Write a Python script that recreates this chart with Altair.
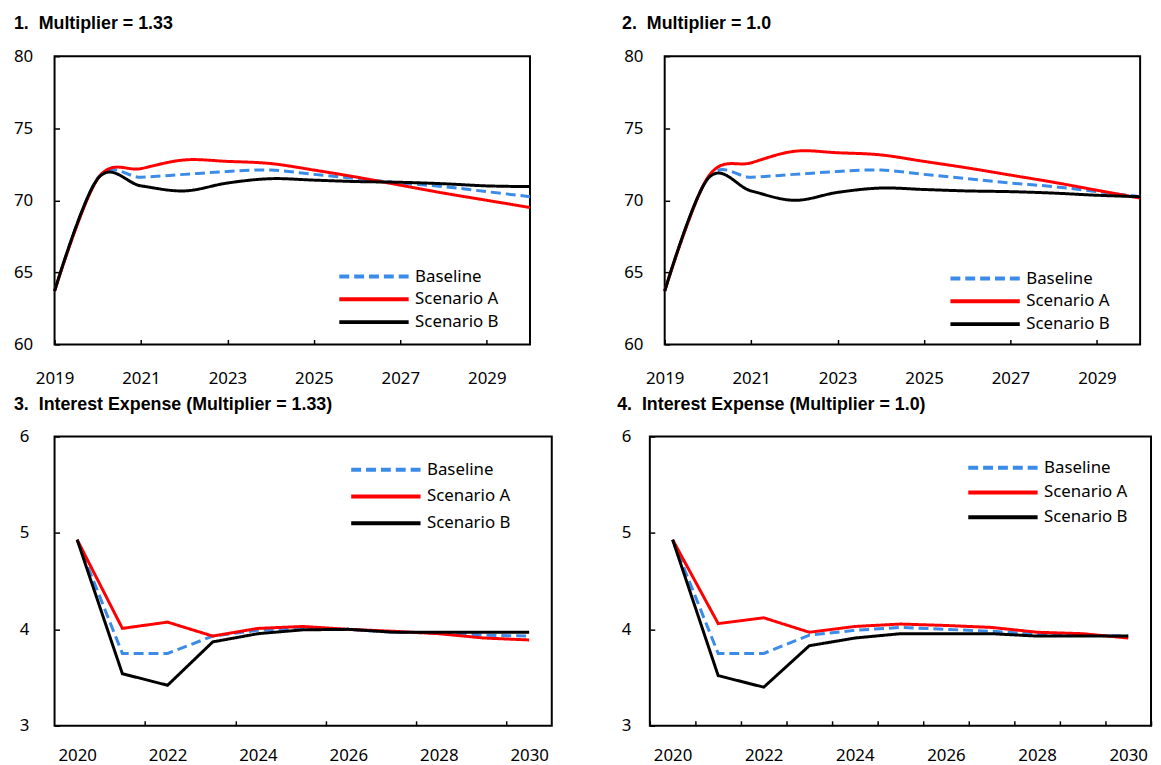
import altair as alt
import pandas as pd

# ---------------- data ----------------
years_top = [2019, 2020, 2021, 2022, 2023, 2024, 2025, 2026, 2027, 2028, 2029, 2030]
years_bot = [2020, 2021, 2022, 2023, 2024, 2025, 2026, 2027, 2028, 2029, 2030]
series = ["Baseline", "Scenario A", "Scenario B"]

# Panel 1: Multiplier = 1.33
p1_baseline = [63.7, 71.55, 71.6, 71.8, 72.0, 72.1, 71.8, 71.5, 71.2, 70.95, 70.6, 70.25]
p1_scen_a = [63.7, 71.5, 72.2, 72.8, 72.7, 72.55, 72.1, 71.6, 71.05, 70.5, 70.0, 69.5]
p1_scen_b = [63.7, 71.5, 71.0, 70.65, 71.2, 71.5, 71.4, 71.3, 71.25, 71.15, 71.0, 70.95]

# Panel 2: Multiplier = 1.0
p2_baseline = [63.7, 71.55, 71.6, 71.8, 72.0, 72.1, 71.8, 71.5, 71.2, 70.95, 70.6, 70.25]
p2_scen_a = [63.7, 71.6, 72.6, 73.4, 73.3, 73.15, 72.7, 72.25, 71.75, 71.25, 70.7, 70.15]
p2_scen_b = [63.7, 71.5, 70.65, 70.0, 70.55, 70.85, 70.75, 70.65, 70.6, 70.5, 70.35, 70.25]

# Panel 3: Interest Expense (Multiplier = 1.33)
p3_baseline = [4.93, 3.75, 3.75, 3.93, 3.99, 4.01, 4.0, 3.97, 3.96, 3.94, 3.93]
p3_scen_a = [4.93, 4.01, 4.075, 3.93, 4.01, 4.03, 4.0, 3.98, 3.955, 3.91, 3.89]
p3_scen_b = [4.93, 3.54, 3.42, 3.87, 3.955, 3.995, 4.0, 3.97, 3.97, 3.97, 3.97]

# Panel 4: Interest Expense (Multiplier = 1.0)
p4_baseline = [4.93, 3.75, 3.75, 3.94, 3.99, 4.02, 4.0, 3.98, 3.95, 3.94, 3.93]
p4_scen_a = [4.93, 4.06, 4.12, 3.97, 4.03, 4.055, 4.04, 4.02, 3.97, 3.955, 3.91]
p4_scen_b = [4.93, 3.52, 3.40, 3.83, 3.91, 3.955, 3.955, 3.955, 3.93, 3.93, 3.93]

titles = [
    "1.\u00a0 Multiplier = 1.33",
    "2.\u00a0 Multiplier = 1.0",
    "3.\u00a0 Interest Expense (Multiplier = 1.33)",
    "4.\u00a0 Interest Expense (Multiplier = 1.0)",
]

# ---------------- style ----------------
colors = ["#3B8BE8", "#FF0000", "#000000"]
dashes = [[10, 5], [1, 0], [1, 0]]
LABEL_FONT = "Noto Sans"
TITLE_FONT = "Liberation Sans Narrow, Arial Narrow, Liberation Sans, sans-serif"
LEGEND_PATH = "M-7,0H7"   # long horizontal stroke symbol


def long_df(years, cols):
    rows = []
    for i, (name, vals) in enumerate(zip(series, cols)):
        for yr, v in zip(years, vals):
            rows.append({"year": yr, "value": v, "series": name, "order": i})
    return pd.DataFrame(rows)


def make_legend(lx, ly, row_pad):
    return alt.Legend(
        title=None, orient="none", legendX=lx, legendY=ly,
        symbolType=LEGEND_PATH, symbolSize=100, symbolStrokeWidth=4,
        labelFont=LABEL_FONT, labelFontSize=17, labelColor="#000000",
        labelOffset=33, rowPadding=row_pad, padding=0,
    )


def axis_common(**kw):
    base = dict(
        labelFont=LABEL_FONT, labelFontSize=17, labelColor="#000000",
        tickColor="#000000", tickWidth=1.5, tickSize=5, domain=False,
        grid=False, title=None, offset=-5,
    )
    base.update(kw)
    return alt.Axis(**base)


def title_params(text, dx):
    return alt.TitleParams(
        text=text, anchor="start", frame="group", dx=dx, offset=14,
        font=TITLE_FONT, fontSize=18, fontWeight="bold", color="#000000",
    )


def enc_style(leg):
    return dict(
        color=alt.Color("series:N", scale=alt.Scale(domain=series, range=colors), legend=leg),
        strokeDash=alt.StrokeDash("series:N", scale=alt.Scale(domain=series, range=dashes), legend=leg),
        order=alt.Order("order:Q"),
    )


def top_panel(cols, title, dx, lx, ly, rp, width):
    df = long_df(years_top, cols)
    leg = make_legend(lx, ly, rp)
    return alt.Chart(df, title=title_params(title, dx)).mark_line(
        interpolate="cardinal", strokeWidth=3
    ).encode(
        x=alt.X("year:Q", scale=alt.Scale(domain=[2019, 2030], nice=False, zero=False),
                axis=axis_common(values=[2019, 2021, 2023, 2025, 2027, 2029], format="d",
                                 labelPadding=26, labelFlush=False)),
        y=alt.Y("value:Q", scale=alt.Scale(domain=[60, 80], nice=False, zero=False),
                axis=axis_common(values=[60, 65, 70, 75, 80], labelPadding=22)),
        detail="series:N",
        **enc_style(leg),
    ).properties(width=width, height=291)


def bottom_panel(cols, title, dx, lx, ly, rp, width, every_tick, ypad):
    df = long_df(years_bot, cols)
    leg = make_legend(lx, ly, rp)
    if every_tick:
        tick_op = 1
    else:
        tick_op = {"condition": {"test": "datum.value % 2 == 1", "value": 1}, "value": 0}
    xaxis = axis_common(values=years_bot, tickBand="extent", labelAngle=0,
                        labelPadding=22, tickOpacity=tick_op,
                        labelExpr="datum.value % 2 == 0 ? datum.label : ''")
    return alt.Chart(df, title=title_params(title, dx)).mark_line(strokeWidth=3).encode(
        x=alt.X("year:O", scale=alt.Scale(type="band", paddingInner=0, paddingOuter=0),
                axis=xaxis, bandPosition=0.5),
        y=alt.Y("value:Q", scale=alt.Scale(domain=[3, 6], nice=False, zero=False),
                axis=axis_common(values=[3, 4, 5, 6], labelPadding=ypad)),
        detail="series:N",
        **enc_style(leg),
    ).properties(width=width, height=292)


p1 = top_panel([p1_baseline, p1_scen_a, p1_scen_b], titles[0], -41, 314, 214, 5, 480)
p2 = top_panel([p2_baseline, p2_scen_a, p2_scen_b], titles[1], -43, 315, 216, 5, 480)
p3 = bottom_panel([p3_baseline, p3_scen_a, p3_scen_b], titles[2], -41, 326, 25, 9, 502, False, 26)
p4 = bottom_panel([p4_baseline, p4_scen_a, p4_scen_b], titles[3], -33, 348, 23, 7, 506, True, 19)


def indep(c):
    return c.resolve_scale(
        color="independent", strokeDash="independent", x="independent", y="independent"
    ).resolve_legend(color="independent", strokeDash="independent").resolve_axis(
        x="independent", y="independent"
    )


row1 = indep(alt.hconcat(p1, p2, spacing=85))
row2 = indep(alt.hconcat(p3, p4, spacing=64))
chart = indep(alt.vconcat(row1, row2, spacing=8)).properties(
    padding={"left": 4, "top": 3, "right": 0, "bottom": 0},
    background="white",
).configure_view(stroke="#000000", strokeWidth=2)

chart.save("out.html", embed_options={"renderer": "svg", "actions": False})
